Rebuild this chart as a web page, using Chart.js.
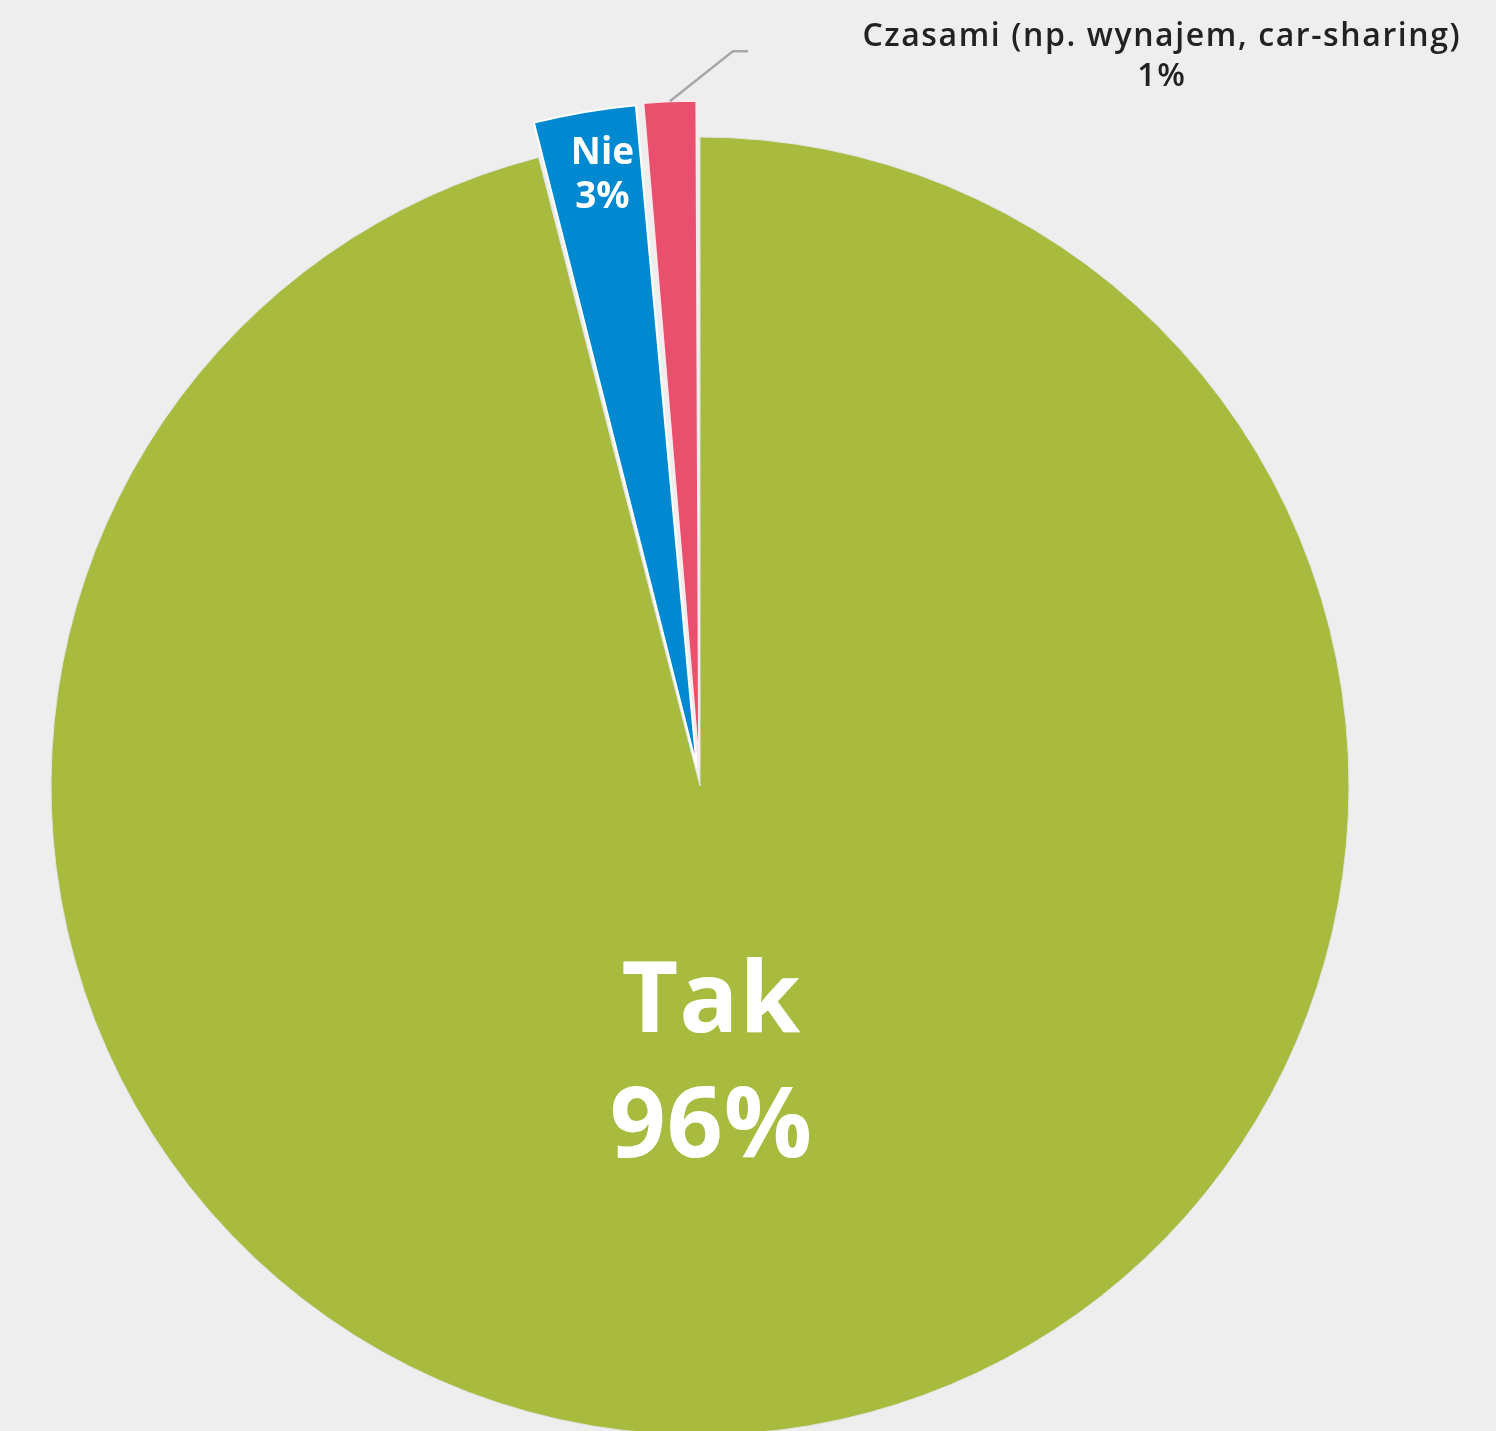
<!DOCTYPE html>
<html>
<head>
<meta charset="utf-8">
<script src="https://cdn.jsdelivr.net/npm/chart.js@4.4.1/dist/chart.umd.min.js"></script>
<style>
  html, body { margin: 0; padding: 0; background: #eeeeee; overflow: hidden; }
  #wrap { width: 1496px; height: 1431px; }
</style>
</head>
<body>
<div id="wrap"><canvas id="chart" width="1496" height="1431"></canvas></div>
<script>
var categories = ['Tak', 'Nie', 'Czasami (np. wynajem, car-sharing)'];
var shares = [96.0, 2.6, 1.4];
var percentLabels = ['96%', '3%', '1%'];

var sliceColors = ['#a9bb3f', '#0088d0', '#e8506d'];
var borderColors = ['#e2e2e2', '#ffffff', '#fbe9ec'];
var borderWidths = [1, 2, 2];
var sliceOffsets = [0, 76, 76];

// how each slice label is placed (inside along the mid angle, or outside with a leader line)
var labelStyles = [
  { inside: true, radial: 0.436, dx: -24, font: '700 98px "Open Sans"', spacing: '1px', color: '#ffffff', gap: 125 },
  { inside: true, radial: 0.925, dx: 7, font: '700 37px "Open Sans"', spacing: '0px', color: '#ffffff', gap: 44 },
  { inside: false, elbow: [63, -50], tail: 15, textDx: 414, font: '600 32px "Open Sans"', spacing: '1.6px', color: '#222222', gap: 40, lineColor: '#a8a8a8' }
];

var sliceLabels = {
  id: 'sliceLabels',
  afterDatasetsDraw: function(chart) {
    var ctx = chart.ctx;
    var arcs = chart.getDatasetMeta(0).data;
    arcs.forEach(function(arc, i) {
      var p = arc.getProps(['x', 'y', 'startAngle', 'endAngle', 'outerRadius', 'circumference']);
      var mid = (p.startAngle + p.endAngle) / 2;
      var shift = (arc.options.offset || 0) / 4;
      var st = labelStyles[i];
      var cx, cy;
      ctx.save();
      if (st.inside) {
        var d = shift + p.outerRadius * st.radial;
        cx = p.x + Math.cos(mid) * d + st.dx;
        cy = p.y + Math.sin(mid) * d;
      } else {
        var rOut = p.outerRadius + shift * (1 - Math.sin(Math.min(Math.PI, p.circumference)));
        var sx = p.x + Math.cos(mid) * (shift + rOut);
        var sy = p.y + Math.sin(mid) * (shift + rOut);
        var ex = sx + st.elbow[0], ey = sy + st.elbow[1];
        ctx.strokeStyle = st.lineColor;
        ctx.lineWidth = 2.5;
        ctx.beginPath();
        ctx.moveTo(sx, sy);
        ctx.lineTo(ex, ey);
        ctx.lineTo(ex + st.tail, ey);
        ctx.stroke();
        cx = ex + st.tail + st.textDx;
        cy = ey + 5.5;
      }
      ctx.font = st.font;
      ctx.letterSpacing = st.spacing;
      ctx.fillStyle = st.color;
      ctx.textAlign = 'center';
      ctx.textBaseline = 'middle';
      ctx.fillText(categories[i], cx, cy - st.gap / 2);
      ctx.fillText(percentLabels[i], cx, cy + st.gap / 2);
      ctx.restore();
    });
  }
};

var chart = new Chart(document.getElementById('chart').getContext('2d'), {
  type: 'pie',
  data: {
    labels: categories,
    datasets: [{
      data: shares,
      backgroundColor: sliceColors,
      borderColor: borderColors,
      borderWidth: borderWidths,
      offset: sliceOffsets,
      clip: false
    }]
  },
  options: {
    responsive: false,
    animation: false,
    radius: 649,
    layout: { padding: { left: 0, right: 96, top: 141, bottom: 0 } },
    plugins: {
      legend: { display: false },
      tooltip: { enabled: false }
    }
  },
  plugins: [sliceLabels]
});
</script>
</body>
</html>
